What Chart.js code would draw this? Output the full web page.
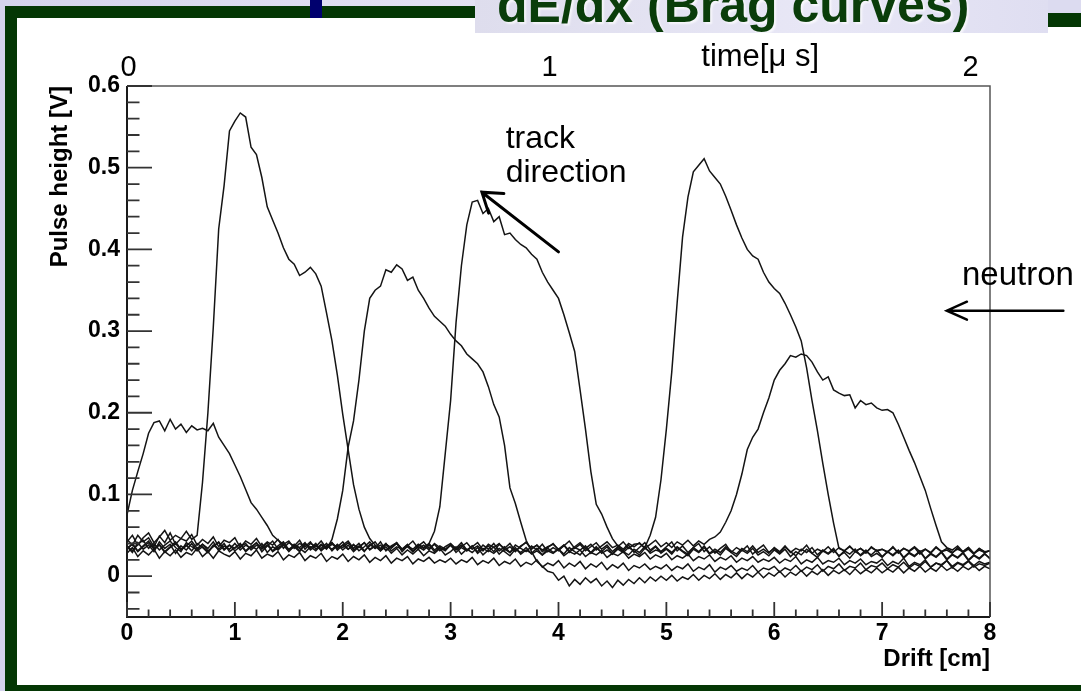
<!DOCTYPE html>
<html>
<head>
<meta charset="utf-8">
<title>dE/dx (Brag curves)</title>
<script src="https://cdn.jsdelivr.net/npm/chart.js@4.4.1/dist/chart.umd.min.js"></script>
<style>
  html, body { margin: 0; padding: 0; }
  body {
    width: 1081px; height: 691px; overflow: hidden; position: relative;
    background: linear-gradient(90deg, #d5d4ed 0%, #e4e3f4 45%, #dcdbf0 100%);
    font-family: 'Liberation Sans', Arial, sans-serif;
  }
  #frame {
    position: absolute; left: 5px; top: 6px; width: 1110px; height: 667px;
    border: 12px solid #043704; background: #fff;
  }
  #navy { position: absolute; left: 310px; top: 0; width: 12px; height: 18px; background: #00006e; z-index: 2; }
  #cornerTop { position: absolute; left: 1048px; top: 0; width: 33px; height: 13px; background: #dcdbf0; z-index: 2; }
  #corner { position: absolute; left: 1048px; top: 13px; width: 33px; height: 14px; background: #043704; z-index: 2; }
  #titleBox {
    position: absolute; left: 475px; top: 0; width: 573px; height: 33px; overflow: hidden; z-index: 3;
    background: linear-gradient(90deg, #dedded 0%, #e8e7f6 60%, #dfdef1 100%);
  }
  #titleBox span {
    position: absolute; left: 22px; top: -23px; white-space: nowrap;
    font: bold 50px 'Liberation Sans', Arial, sans-serif; line-height: 56px;
    color: #0a3d0a; text-shadow: 2px 2px 2px rgba(255,255,255,0.7);
  }
  #plot { position: absolute; left: 0; top: 0; z-index: 5; }
</style>
</head>
<body>
<div id="frame"></div>
<div id="navy"></div>
<div id="cornerTop"></div>
<div id="corner"></div>
<div id="titleBox"><span>dE/dx (Brag curves)</span></div>
<canvas id="plot" width="1081" height="691"></canvas>
<script>
// sampling positions along the drift direction [cm]
const drift = [
  0, 0.05, 0.1, 0.15, 0.2, 0.25, 0.3, 0.35, 0.4, 0.45, 0.5, 0.55, 0.6, 0.65, 0.7, 0.75, 0.8, 0.85, 0.9, 0.95,
  1, 1.05, 1.1, 1.15, 1.2, 1.25, 1.3, 1.35, 1.4, 1.45, 1.5, 1.55, 1.6, 1.65, 1.7, 1.75, 1.8, 1.85, 1.9, 1.95,
  2, 2.05, 2.1, 2.15, 2.2, 2.25, 2.3, 2.35, 2.4, 2.45, 2.5, 2.55, 2.6, 2.65, 2.7, 2.75, 2.8, 2.85, 2.9, 2.95,
  3, 3.05, 3.1, 3.15, 3.2, 3.25, 3.3, 3.35, 3.4, 3.45, 3.5, 3.55, 3.6, 3.65, 3.7, 3.75, 3.8, 3.85, 3.9, 3.95,
  4, 4.05, 4.1, 4.15, 4.2, 4.25, 4.3, 4.35, 4.4, 4.45, 4.5, 4.55, 4.6, 4.65, 4.7, 4.75, 4.8, 4.85, 4.9, 4.95,
  5, 5.05, 5.1, 5.15, 5.2, 5.25, 5.3, 5.35, 5.4, 5.45, 5.5, 5.55, 5.6, 5.65, 5.7, 5.75, 5.8, 5.85, 5.9, 5.95,
  6, 6.05, 6.1, 6.15, 6.2, 6.25, 6.3, 6.35, 6.4, 6.45, 6.5, 6.55, 6.6, 6.65, 6.7, 6.75, 6.8, 6.85, 6.9, 6.95,
  7, 7.05, 7.1, 7.15, 7.2, 7.25, 7.3, 7.35, 7.4, 7.45, 7.5, 7.55, 7.6, 7.65, 7.7, 7.75, 7.8, 7.85, 7.9, 7.95,
  8
];

// pulse height [V] per event, one value per drift sample
const event1 = [
  0.075,0.105,0.128,0.150,0.175,0.188,0.190,0.178,0.192,0.180,0.186,0.176,0.184,0.179,0.181,0.178,0.187,0.170,0.160,0.150,
  0.136,0.122,0.106,0.090,0.082,0.072,0.062,0.050,0.044,0.039,0.043,0.034,0.040,0.036,0.042,0.033,0.039,0.035,0.041,0.032,
  0.038,0.043,0.034,0.040,0.031,0.037,0.042,0.033,0.039,0.035,0.041,0.030,0.037,0.043,0.034,0.038,0.032,0.040,0.035,0.031,
  0.039,0.034,0.041,0.032,0.037,0.030,0.038,0.033,0.040,0.031,0.036,0.029,0.038,0.034,0.030,0.037,0.032,0.039,0.030,0.035,
  0.031,0.038,0.029,0.035,0.032,0.037,0.028,0.034,0.030,0.036,0.027,0.033,0.029,0.035,0.031,0.026,0.034,0.030,0.036,0.028,
  0.033,0.027,0.035,0.030,0.025,0.033,0.029,0.035,0.027,0.031,0.026,0.034,0.029,0.024,0.032,0.028,0.034,0.026,0.030,0.025,
  0.032,0.027,0.033,0.024,0.030,0.026,0.033,0.028,0.023,0.031,0.027,0.032,0.025,0.029,0.022,0.030,0.026,0.032,0.024,0.028,
  0.023,0.030,0.025,0.031,0.022,0.028,0.024,0.030,0.021,0.027,0.023,0.029,0.020,0.026,0.022,0.028,0.019,0.025,0.021,0.027,
  0.022
];
const event2 = [
  0.042,0.050,0.038,0.047,0.053,0.041,0.048,0.056,0.044,0.050,0.046,0.055,0.045,0.050,0.115,0.200,0.305,0.425,0.478,0.545,
  0.557,0.567,0.562,0.525,0.516,0.488,0.452,0.436,0.420,0.402,0.388,0.382,0.368,0.372,0.378,0.370,0.355,0.322,0.288,0.246,
  0.198,0.155,0.112,0.082,0.060,0.046,0.038,0.031,0.036,0.028,0.034,0.026,0.032,0.027,0.033,0.025,0.031,0.028,0.034,0.026,
  0.030,0.036,0.027,0.033,0.029,0.035,0.026,0.032,0.028,0.034,0.030,0.025,0.033,0.029,0.035,0.027,0.031,0.026,0.034,0.029,
  0.033,0.027,0.035,0.030,0.026,0.034,0.029,0.036,0.028,0.032,0.027,0.035,0.030,0.026,0.033,0.029,0.036,0.028,0.032,0.030,
  0.034,0.029,0.036,0.031,0.027,0.035,0.030,0.037,0.028,0.033,0.029,0.036,0.031,0.027,0.034,0.030,0.037,0.029,0.033,0.028,
  0.035,0.030,0.037,0.029,0.034,0.031,0.038,0.028,0.033,0.030,0.036,0.029,0.035,0.031,0.037,0.030,0.034,0.028,0.036,0.031,
  0.033,0.029,0.036,0.028,0.034,0.030,0.035,0.027,0.033,0.029,0.036,0.030,0.032,0.028,0.035,0.029,0.033,0.027,0.034,0.030,
  0.031
];
const event3 = [
  0.036,0.029,0.041,0.033,0.038,0.030,0.042,0.034,0.039,0.028,0.037,0.032,0.040,0.031,0.036,0.029,0.038,0.033,0.040,0.030,
  0.035,0.039,0.031,0.037,0.033,0.040,0.029,0.036,0.032,0.039,0.030,0.037,0.034,0.029,0.036,0.031,0.038,0.033,0.045,0.070,
  0.105,0.158,0.190,0.240,0.300,0.340,0.350,0.355,0.375,0.372,0.381,0.376,0.362,0.366,0.350,0.340,0.328,0.318,0.312,0.306,
  0.296,0.288,0.282,0.272,0.266,0.260,0.250,0.232,0.210,0.195,0.160,0.108,0.089,0.066,0.044,0.030,0.018,0.012,0.006,0.004,
  -0.005,0.000,-0.012,-0.004,-0.010,-0.002,-0.008,-0.003,-0.012,-0.006,-0.014,-0.005,-0.011,-0.004,-0.009,-0.002,-0.008,-0.001,-0.006,0.000,
  -0.005,0.001,-0.006,-0.001,-0.004,0.002,-0.005,0.001,-0.003,0.003,-0.004,0.002,-0.002,0.004,-0.003,0.003,-0.001,0.005,-0.002,0.004,
  0.000,0.006,-0.001,0.005,0.001,0.007,0.000,0.006,0.002,0.008,0.001,0.007,0.003,0.008,0.002,0.009,0.003,0.008,0.004,0.010,
  0.004,0.009,0.005,0.011,0.004,0.010,0.006,0.012,0.005,0.010,0.006,0.013,0.007,0.011,0.006,0.012,0.008,0.013,0.007,0.012,
  0.009
];
const event4 = [
  0.033,0.040,0.031,0.037,0.043,0.034,0.039,0.030,0.036,0.042,0.033,0.038,0.031,0.040,0.035,0.029,0.037,0.041,0.032,0.038,
  0.034,0.040,0.030,0.036,0.041,0.033,0.038,0.031,0.037,0.042,0.032,0.036,0.030,0.039,0.034,0.040,0.031,0.037,0.033,0.039,
  0.032,0.038,0.030,0.036,0.041,0.033,0.037,0.031,0.039,0.034,0.040,0.032,0.037,0.033,0.039,0.035,0.040,0.055,0.085,0.150,
  0.215,0.310,0.380,0.430,0.458,0.460,0.444,0.450,0.434,0.440,0.418,0.420,0.412,0.406,0.402,0.394,0.388,0.372,0.360,0.350,
  0.340,0.320,0.298,0.275,0.228,0.180,0.128,0.088,0.076,0.060,0.046,0.037,0.031,0.038,0.029,0.035,0.041,0.032,0.037,0.030,
  0.036,0.042,0.031,0.037,0.029,0.035,0.040,0.030,0.036,0.028,0.034,0.039,0.029,0.035,0.031,0.037,0.027,0.033,0.038,0.029,
  0.034,0.028,0.036,0.030,0.025,0.033,0.029,0.035,0.026,0.032,0.028,0.034,0.024,0.031,0.027,0.033,0.025,0.030,0.026,0.032,
  0.024,0.030,0.026,0.032,0.023,0.029,0.025,0.031,0.022,0.028,0.024,0.030,0.021,0.027,0.023,0.029,0.020,0.026,0.022,0.028,
  0.021
];
const event5 = [
  0.037,0.031,0.039,0.044,0.034,0.040,0.032,0.038,0.043,0.035,0.030,0.041,0.036,0.032,0.039,0.034,0.042,0.031,0.037,0.033,
  0.040,0.032,0.038,0.034,0.041,0.030,0.037,0.043,0.033,0.038,0.031,0.039,0.035,0.041,0.032,0.037,0.034,0.040,0.031,0.038,
  0.035,0.041,0.032,0.037,0.030,0.039,0.034,0.042,0.031,0.036,0.040,0.033,0.038,0.030,0.037,0.042,0.034,0.039,0.031,0.036,
  0.040,0.033,0.038,0.031,0.036,0.041,0.032,0.037,0.030,0.039,0.034,0.040,0.031,0.036,0.042,0.033,0.038,0.030,0.035,0.040,
  0.032,0.037,0.043,0.034,0.039,0.031,0.036,0.041,0.033,0.038,0.030,0.036,0.042,0.034,0.039,0.040,0.035,0.050,0.072,0.118,
  0.180,0.250,0.335,0.415,0.464,0.495,0.503,0.511,0.496,0.488,0.480,0.465,0.448,0.430,0.414,0.400,0.392,0.388,0.372,0.360,
  0.352,0.346,0.334,0.320,0.305,0.288,0.255,0.215,0.178,0.138,0.100,0.065,0.034,0.031,0.036,0.030,0.034,0.029,0.035,0.031,
  0.033,0.030,0.035,0.029,0.034,0.031,0.036,0.030,0.033,0.028,0.035,0.030,0.034,0.029,0.033,0.030,0.035,0.028,0.032,0.029,
  0.031
];
const event6 = [
  0.034,0.039,0.030,0.036,0.041,0.033,0.038,0.029,0.035,0.040,0.032,0.037,0.043,0.034,0.039,0.031,0.036,0.042,0.033,0.038,
  0.031,0.036,0.040,0.032,0.038,0.034,0.041,0.030,0.035,0.039,0.033,0.037,0.031,0.040,0.035,0.038,0.032,0.037,0.041,0.034,
  0.038,0.033,0.039,0.031,0.036,0.042,0.034,0.038,0.032,0.037,0.041,0.033,0.036,0.030,0.038,0.034,0.040,0.032,0.037,0.033,
  0.038,0.032,0.036,0.041,0.033,0.037,0.031,0.039,0.035,0.040,0.032,0.036,0.030,0.037,0.041,0.034,0.038,0.032,0.036,0.039,
  0.033,0.038,0.031,0.036,0.041,0.034,0.039,0.032,0.037,0.042,0.035,0.038,0.033,0.040,0.036,0.041,0.034,0.039,0.044,0.036,
  0.041,0.035,0.042,0.038,0.044,0.037,0.043,0.039,0.045,0.048,0.054,0.066,0.080,0.100,0.125,0.155,0.170,0.180,0.200,0.218,
  0.240,0.252,0.260,0.270,0.268,0.272,0.270,0.262,0.250,0.240,0.244,0.228,0.224,0.221,0.222,0.206,0.215,0.210,0.212,0.206,
  0.203,0.204,0.200,0.186,0.170,0.154,0.139,0.122,0.105,0.083,0.062,0.042,0.035,0.032,0.037,0.030,0.035,0.028,0.034,0.029,
  0.031
];
const event7 = [
  0.028,0.035,0.024,0.031,0.026,0.033,0.022,0.030,0.025,0.032,0.023,0.029,0.026,0.034,0.024,0.030,0.022,0.031,0.027,0.024,
  0.030,0.021,0.028,0.025,0.032,0.022,0.027,0.024,0.030,0.020,0.026,0.023,0.029,0.019,0.025,0.022,0.028,0.018,0.024,0.021,
  0.027,0.018,0.024,0.020,0.026,0.017,0.023,0.019,0.025,0.016,0.022,0.019,0.024,0.015,0.021,0.018,0.023,0.016,0.020,0.017,
  0.022,0.015,0.020,0.017,0.023,0.014,0.019,0.016,0.022,0.013,0.018,0.015,0.021,0.012,0.017,0.014,0.020,0.011,0.016,0.013,
  0.019,0.010,0.016,0.012,0.018,0.009,0.015,0.011,0.017,0.008,0.014,0.010,0.016,0.007,0.013,0.010,0.015,0.008,0.012,0.009,
  0.014,0.007,0.012,0.009,0.015,0.006,0.011,0.008,0.014,0.005,0.011,0.008,0.013,0.006,0.010,0.007,0.013,0.005,0.010,0.008,
  0.012,0.005,0.010,0.007,0.013,0.006,0.011,0.008,0.014,0.006,0.012,0.009,0.015,0.007,0.012,0.010,0.016,0.008,0.013,0.011,
  0.016,0.009,0.014,0.011,0.017,0.010,0.015,0.012,0.018,0.011,0.016,0.013,0.019,0.012,0.017,0.014,0.019,0.013,0.018,0.015,
  0.017
];
const event8 = [
  0.045,0.038,0.050,0.042,0.047,0.036,0.049,0.041,0.053,0.039,0.046,0.043,0.051,0.038,0.045,0.040,0.048,0.036,0.044,0.041,
  0.047,0.035,0.043,0.039,0.046,0.036,0.042,0.038,0.045,0.034,0.041,0.037,0.044,0.033,0.040,0.036,0.043,0.034,0.039,0.036,
  0.042,0.033,0.038,0.035,0.041,0.032,0.037,0.034,0.040,0.031,0.036,0.033,0.039,0.030,0.036,0.032,0.038,0.030,0.035,0.032,
  0.038,0.029,0.035,0.031,0.037,0.028,0.034,0.030,0.036,0.027,0.033,0.029,0.035,0.027,0.032,0.028,0.034,0.026,0.031,0.028,
  0.033,0.025,0.030,0.027,0.032,0.024,0.029,0.026,0.031,0.023,0.028,0.025,0.030,0.022,0.027,0.024,0.029,0.021,0.026,0.023,
  0.028,0.020,0.025,0.022,0.027,0.019,0.024,0.021,0.026,0.018,0.023,0.020,0.025,0.017,0.022,0.019,0.024,0.017,0.021,0.018,
  0.023,0.016,0.021,0.018,0.024,0.015,0.020,0.017,0.023,0.015,0.019,0.017,0.022,0.014,0.019,0.016,0.021,0.014,0.018,0.016,
  0.021,0.013,0.018,0.015,0.022,0.012,0.017,0.014,0.020,0.011,0.016,0.014,0.019,0.010,0.016,0.013,0.018,0.011,0.015,0.013,
  0.016
];
const events = [event1, event2, event3, event4, event5, event6, event7, event8];

// axis labels
const driftTicks = [0, 1, 2, 3, 4, 5, 6, 7, 8];
const heightTicks = [0, 0.1, 0.2, 0.3, 0.4, 0.5, 0.6];
const timeTicks = [0, 1, 2];

Chart.defaults.font.family = "'Liberation Sans', Arial, sans-serif";
Chart.defaults.color = '#000';

function drawArrow(ctx, x0, y0, x1, y1, len, spread, width) {
  const ang = Math.atan2(y0 - y1, x0 - x1);
  ctx.lineWidth = width;
  ctx.lineCap = 'round';
  ctx.lineJoin = 'miter';
  ctx.beginPath();
  ctx.moveTo(x0, y0);
  ctx.lineTo(x1, y1);
  ctx.moveTo(x1 + len * Math.cos(ang + spread), y1 + len * Math.sin(ang + spread));
  ctx.lineTo(x1, y1);
  ctx.lineTo(x1 + len * Math.cos(ang - spread), y1 + len * Math.sin(ang - spread));
  ctx.stroke();
}

// ROOT-style frame: ticks inside the box, left and bottom only
const rootFrame = {
  id: 'rootFrame',
  afterDatasetsDraw(chart) {
    const { ctx, chartArea: a, scales: { x, y } } = chart;
    ctx.save();
    ctx.lineCap = 'butt';
    ctx.strokeStyle = '#555';
    ctx.lineWidth = 1.5;
    ctx.beginPath();
    ctx.moveTo(a.left, a.top);
    ctx.lineTo(a.right, a.top);
    ctx.lineTo(a.right, a.bottom);
    ctx.stroke();

    ctx.strokeStyle = '#1a1a1a';
    ctx.lineWidth = 2;
    ctx.beginPath();
    ctx.moveTo(a.left, a.top);
    ctx.lineTo(a.left, a.bottom);
    ctx.lineTo(a.right, a.bottom);
    ctx.stroke();

    ctx.lineWidth = 1.8;
    ctx.strokeStyle = '#333';
    ctx.beginPath();
    for (let k = -2; k <= 30; k++) {
      const py = y.getPixelForValue(k * 0.02);
      const len = k % 5 === 0 ? 25 : 12.5;
      ctx.moveTo(a.left, py);
      ctx.lineTo(a.left + len, py);
    }
    for (let k = 0; k <= 40; k++) {
      const px = x.getPixelForValue(k * 0.2);
      const len = k % 5 === 0 ? 15 : 7.5;
      ctx.moveTo(px, a.bottom);
      ctx.lineTo(px, a.bottom - len);
    }
    ctx.stroke();
    ctx.restore();
  },
  afterDraw(chart) {
    const { ctx, chartArea: a, scales: { x, y, x2 } } = chart;
    ctx.save();
    ctx.fillStyle = '#000';
    ctx.strokeStyle = '#000';
    ctx.textBaseline = 'alphabetic';

    ctx.font = "31px 'Liberation Sans', Arial, sans-serif";
    ctx.textAlign = 'center';
    ctx.fillText('time[\u03bc s]', x2.getPixelForValue(1.5), a.top - 20);

    ctx.textAlign = 'left';
    ctx.font = "32px 'Liberation Sans', Arial, sans-serif";
    const tx = x.getPixelForValue(3.51), ty = y.getPixelForValue(0.524);
    ctx.fillText('track', tx, ty);
    ctx.fillText('direction', tx, ty + 34);
    drawArrow(ctx, x.getPixelForValue(4.0), y.getPixelForValue(0.397),
      x.getPixelForValue(3.29), y.getPixelForValue(0.470), 22, 0.6, 3);

    ctx.font = "33px 'Liberation Sans', Arial, sans-serif";
    ctx.fillText('neutron', x.getPixelForValue(7.74), y.getPixelForValue(0.356));
    drawArrow(ctx, x.getPixelForValue(8.68), y.getPixelForValue(0.325),
      x.getPixelForValue(7.6), y.getPixelForValue(0.325), 22, 0.42, 2.5);
    ctx.restore();
  }
};

new Chart(document.getElementById('plot'), {
  type: 'line',
  data: {
    datasets: events.map(ev => ({
      data: drift.map((d, i) => ({ x: d, y: ev[i] })),
      borderColor: '#141414',
      borderWidth: 1.5,
      pointRadius: 0,
      tension: 0,
      fill: false
    }))
  },
  options: {
    responsive: false,
    animation: false,
    devicePixelRatio: 1,
    layout: { padding: { left: 46, right: 91, top: 0, bottom: 17 } },
    plugins: { legend: { display: false }, tooltip: { enabled: false } },
    scales: {
      x: {
        type: 'linear', position: 'bottom', min: 0, max: 8,
        grid: { display: false, drawTicks: false }, border: { display: false },
        afterBuildTicks: s => { s.ticks = driftTicks.map(v => ({ value: v })); },
        afterFit: s => { s.height = 57; },
        ticks: { padding: 3, autoSkip: false, maxRotation: 0, font: { size: 23, weight: 'bold' }, callback: v => String(v) },
        title: { display: true, text: 'Drift [cm]', align: 'end', padding: 0, font: { size: 24, weight: 'bold' } }
      },
      x2: {
        type: 'linear', position: 'top', min: -0.004, max: 2.046,
        grid: { display: false, drawTicks: false }, border: { display: false },
        afterBuildTicks: s => { s.ticks = timeTicks.map(v => ({ value: v })); },
        afterFit: s => { s.height = 86; },
        ticks: { padding: 1, autoSkip: false, maxRotation: 0, font: { size: 29 }, callback: v => String(v) }
      },
      y: {
        type: 'linear', position: 'left', min: -0.05, max: 0.6,
        grid: { display: false, drawTicks: false }, border: { display: false },
        afterBuildTicks: s => { s.ticks = heightTicks.map(v => ({ value: v })); },
        afterFit: s => { s.width = 81; },
        ticks: { padding: 7, autoSkip: false, font: { size: 23, weight: 'bold' }, callback: v => (v === 0 ? '0' : v.toFixed(1)) },
        title: { display: true, text: 'Pulse height [V]', align: 'end', padding: 0, font: { size: 24, weight: 'bold' } }
      }
    }
  },
  plugins: [rootFrame]
});
</script>
</body>
</html>
